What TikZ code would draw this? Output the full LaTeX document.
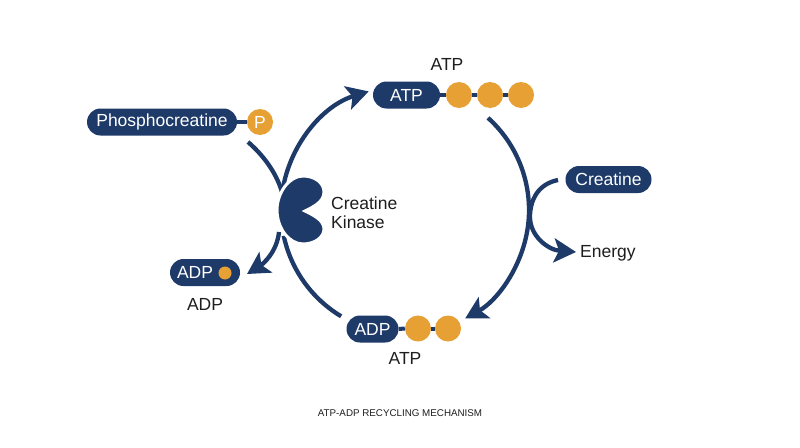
\documentclass[tikz,border=0pt]{standalone}
\usepackage{fontspec}
\setmainfont{Liberation Sans}
\usetikzlibrary{arrows.meta}
\definecolor{navy}{RGB}{30,58,104}
\definecolor{amber}{RGB}{231,160,52}
\definecolor{ink}{RGB}{30,30,30}
\begin{document}
\begin{tikzpicture}[x=1pt,y=-1pt,
  pill/.style={fill=navy, text=white, rounded corners=13.5pt, minimum height=27pt, inner xsep=8pt, inner ysep=0pt, font=\fontsize{17.5}{20}\selectfont},
  ball/.style={circle, fill=amber, minimum size=26pt, inner sep=0pt},
  link/.style={navy, line width=4pt},
  flow/.style={navy, line width=4.3pt},
  arrowhd/.style={-{Stealth[length=22pt,width=24pt,inset=5pt]}},
  lbl/.style={text=ink, font=\fontsize{17.5}{19}\selectfont, inner sep=0pt},
  enzyme/.style={fill=navy, draw=white, line width=3pt}]
\useasboundingbox (0,0) rectangle (800,447);
\fill[white] (0,0) rectangle (800,447);

% cycle centre
\coordinate (cyc) at (405,210);

% top ATP
\node[lbl] (atpTitle) at (447,64) {ATP};
\node[pill, minimum width=67pt] (atpPill) at (406.5,95) {ATP};
\node[ball] (a1) at (459,95) {};
\node[ball] (a2) at (490,95) {};
\node[ball] (a3) at (521,95) {};
\draw[link] (atpPill.east) -- (a1.west);
\draw[link] (a1.east) -- (a2.west);
\draw[link] (a2.east) -- (a3.west);

% phosphocreatine
\node[pill, minimum width=150pt] (pcr) at (162,122) {Phosphocreatine};
\node[ball, text=white, font=\fontsize{17.5}{20}\selectfont] (pball) at (260,122) {P};
\draw[link] (pcr.east) -- (pball.west);

% creatine / energy
\node[pill, minimum width=86pt] (cr) at (608.5,179.5) {Creatine};
\node[lbl, anchor=west] (energy) at (580,253) {Energy};

% left ADP
\node[pill, minimum width=70pt] (adpL) at (205,272.5) {};
\node[lbl, text=white] (adpLtxt) at (195,272.5) {ADP};
\node[circle, fill=amber, minimum size=13pt, inner sep=0pt] (adpDot) at (225,273) {};
\node[lbl] (adpLbl) at (205,304) {ADP};

% bottom ADP
\node[pill, minimum width=52pt] (adpB) at (372.5,329) {ADP};
\node[ball] (b1) at (418,328.5) {};
\node[ball] (b2) at (448,328.5) {};
\draw[link] (adpB.east) -- (b1.west);
\draw[link] (b1.east) -- (b2.west);
\node[lbl] (atpLbl) at (405,358) {ATP};

% connectors
\coordinate (pcrOut) at (248,142);
\coordinate (ckTop) at (282,192);
\coordinate (ckBot) at (279,232);
\coordinate (adpIn) at (247,274);
\coordinate (crOut) at (558,180);
\coordinate (merge) at (530,217);
\coordinate (enIn) at (576,252);

\draw[flow, arrowhd] ([shift={(-172:124)}]cyc) arc[start angle=-172, end angle=-107, radius=124];
\draw[flow, arrowhd] ([shift={(-48:124)}]cyc) arc[start angle=-48, end angle=61, radius=124];
\draw[flow] ([shift={(168:124)}]cyc) arc[start angle=168, end angle=121, radius=124];
\draw[flow] (pcrOut) .. controls (263,155) and (276,172) .. (ckTop);
\draw[flow, arrowhd] (ckBot) .. controls (277,252) and (263,264) .. (adpIn);
\draw[flow, arrowhd] (crOut) .. controls (538,184) and (530,200) .. (merge) .. controls (530,236) and (548,250) .. (enIn);

% creatine kinase
\path[enzyme] (305,211) .. controls (313,207) and (324,202) .. (324,192)
  .. controls (324,183) and (315,176) .. (303,176)
  .. controls (289,176) and (277,193) .. (277,210)
  .. controls (277,228) and (289,244) .. (303,244)
  .. controls (315,244) and (324,237) .. (324,229)
  .. controls (324,220) and (313,215) .. (305,211) -- cycle;
\node[lbl, anchor=west, align=left] (ck) at (331,212.5) {Creatine\\Kinase};

% title
\node[text=ink, font=\fontsize{9.8}{12}\selectfont] (title) at (400,413) {ATP-ADP RECYCLING MECHANISM};
\end{tikzpicture}
\end{document}
